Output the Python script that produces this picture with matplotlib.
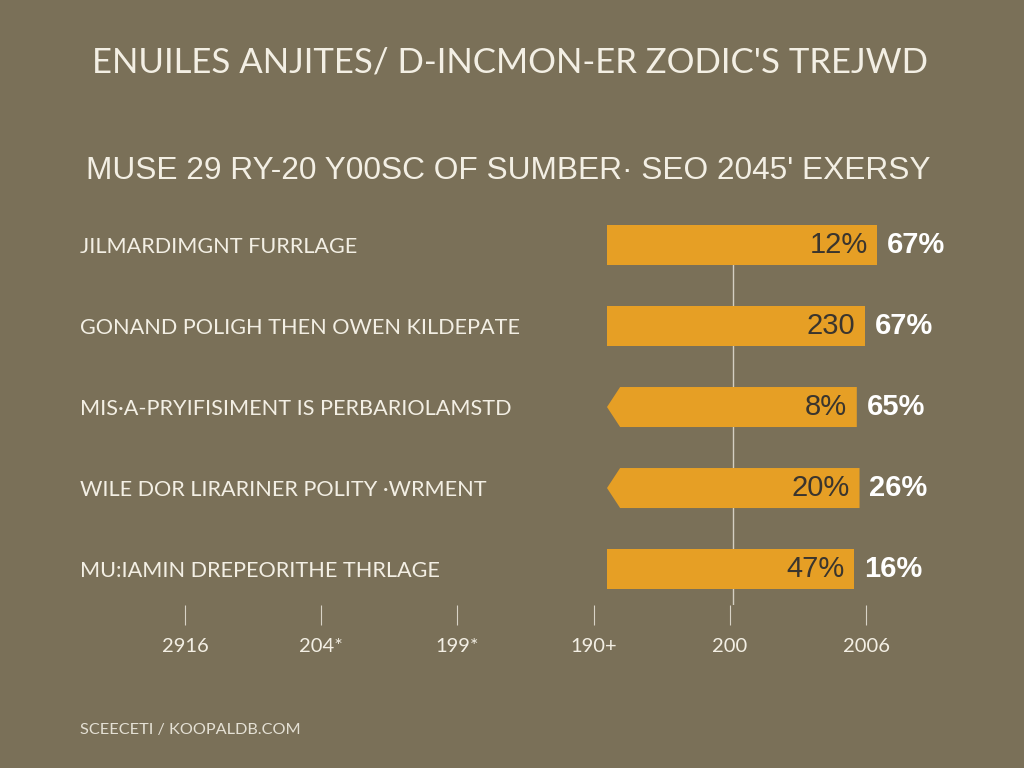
import matplotlib
matplotlib.use('Agg')
import matplotlib.pyplot as plt
from matplotlib.patches import Polygon
from matplotlib.transforms import blended_transform_factory

# chart text
title = "ENUILES ANJITES/ D-INCMON-ER ZODIC'S TREJWD"
subtitle = "MUSE 29 RY-20 Y00SC OF SUMBER\u00b7 SEO 2045' EXERSY"
footer = "SCEECETI / KOOPALDB.COM"

# rows, top to bottom
categories = ["JILMARDIMGNT FURRLAGE",
              "GONAND POLIGH THEN OWEN KILDEPATE",
              "MIS\u00b7A-PRYIFISIMENT IS PERBARIOLAMSTD",
              "WILE DOR LIRARINER POLITY \u00b7WRMENT",
              "MU:IAMIN DREPEORITHE THRLAGE"]
bar_values = [99, 94.5, 91.5, 92.5, 90.5]
inner_labels = ["12%", "230", "8%", "20%", "47%"]
outer_labels = ["67%", "67%", "65%", "26%", "16%"]
arrow_rows = [False, False, True, True, False]
ref_value = 46

# bottom axis
tick_labels = ["2916", "204*", "199*", "190+", "200", "2006"]

bg = '#7a7058'
bar_color = '#e69f25'
light = '#f3efe4'
W, H = 1024, 768


def fx(px):
    return px / W


def fy(py):
    return 1 - py / H


sans = ['Liberation Sans', 'DejaVu Sans']
lato = ['Lato', 'DejaVu Sans']

fig = plt.figure(figsize=(10.24, 7.68), dpi=100, facecolor=bg)

fig.text(fx(510), fy(62), title, ha='center', va='center', color=light,
         fontsize=25, family=lato)
fig.text(fx(508), fy(171), subtitle, ha='center', va='center', color=light,
         fontsize=22.8, family=sans)

# bars
ax = fig.add_axes([fx(607), fy(605), 273 / W, 380 / H])
ax.set_facecolor('none')
ax.set_xlim(0, 100)
ax.set_ylim(4.444, -0.247)
ax.axis('off')
ax.axvline(ref_value, color='#d4cfc2', lw=1, zorder=0)

bar_h = 0.494
notch = 4.8
label_tr = blended_transform_factory(fig.transFigure, ax.transData)
for i, (cat, v) in enumerate(zip(categories, bar_values)):
    if arrow_rows[i]:
        pts = [(0, i), (notch, i - bar_h / 2), (v, i - bar_h / 2),
               (v, i + bar_h / 2), (notch, i + bar_h / 2)]
        ax.add_patch(Polygon(pts, closed=True, color=bar_color, lw=0, zorder=2))
    else:
        ax.barh(i, v, height=bar_h, color=bar_color, zorder=2)
    ax.annotate(inner_labels[i], (v, i), xytext=(-7, 0), textcoords='offset points',
                ha='right', va='center', color='#3a352e', fontsize=21,
                family=sans, zorder=3)
    ax.annotate(outer_labels[i], (v, i), xytext=(7, 0), textcoords='offset points',
                ha='left', va='center', color='white', fontsize=21,
                fontweight='bold', family=sans, annotation_clip=False)
    ax.text(fx(80), i + 0.03, cat, transform=label_tr, ha='left', va='center',
            color=light, fontsize=15.6, family=lato)

# bottom tick row
tax = fig.add_axes([fx(185), fy(605), 681 / W, 0.001])
tax.set_facecolor('none')
for s in tax.spines.values():
    s.set_visible(False)
tax.set_xlim(0, 5)
tax.set_xticks(range(len(tick_labels)))
tax.set_xticklabels(tick_labels, family=lato)
tax.set_yticks([])
tax.tick_params(axis='x', direction='out', length=14.4, width=0.8,
                color='#d8d3c6', labelcolor=light, labelsize=14.5, pad=9)

fig.text(fx(80), fy(730), footer, ha='left', va='center', color='#e4e0d4',
         fontsize=11.7, family=lato)

fig.savefig('out.png', dpi=100, facecolor=bg)
